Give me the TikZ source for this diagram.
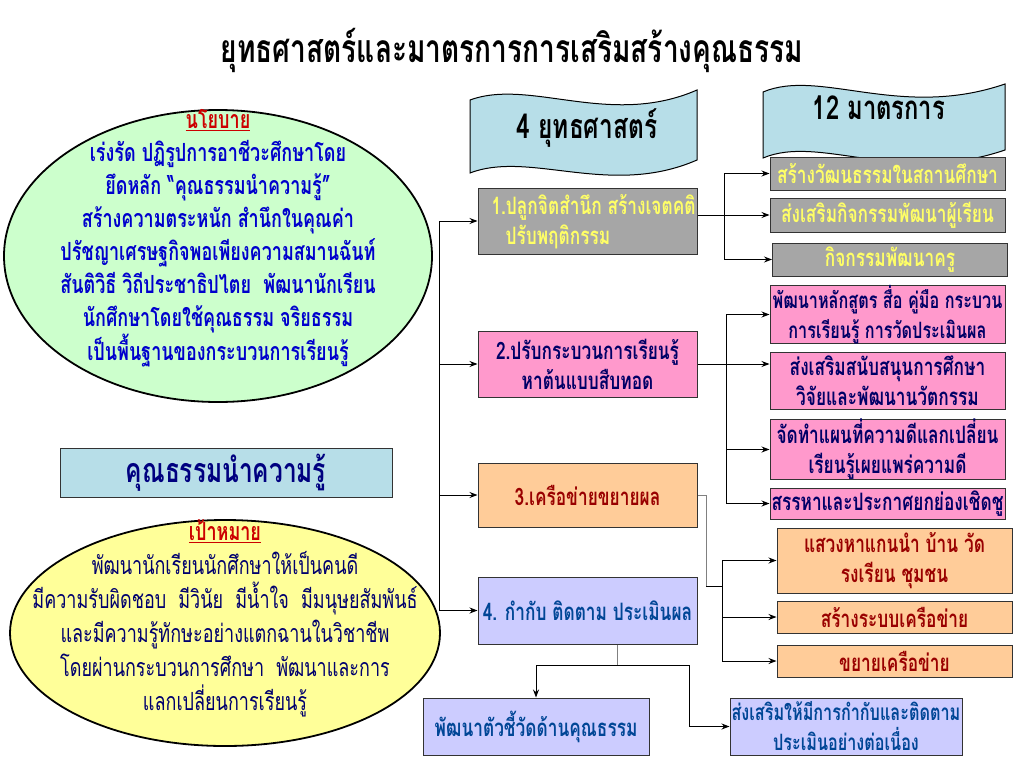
\documentclass[tikz,border=0pt]{standalone}
\usepackage{fontspec}
\setmainfont[Script=Thai,FakeStretch=0.72]{Loma}
\usetikzlibrary{arrows.meta,calc,shapes.geometric}
\definecolor{policygreen}{RGB}{204,255,204}
\definecolor{goalyellow}{RGB}{255,255,153}
\definecolor{policyblue}{RGB}{0,0,204}
\definecolor{goalnavy}{RGB}{0,0,110}
\definecolor{headred}{RGB}{204,0,0}
\definecolor{bannerblue}{RGB}{183,222,232}
\definecolor{mottonavy}{RGB}{0,0,128}
\definecolor{boxgray}{RGB}{166,166,166}
\definecolor{grayyellow}{RGB}{255,255,102}
\definecolor{boxpink}{RGB}{255,153,204}
\definecolor{pinknavy}{RGB}{0,0,102}
\definecolor{boxpeach}{RGB}{255,204,153}
\definecolor{peachred}{RGB}{153,0,0}
\definecolor{boxlavender}{RGB}{204,204,255}
\definecolor{lavblue}{RGB}{0,70,150}
\definecolor{stemgray}{RGB}{128,128,128}
\newcommand{\fsmain}{\fontsize{25}{33}\selectfont}
\newcommand{\fsbox}{\fontsize{24}{30}\selectfont}
\newcommand{\fsnarrow}{\fontsize{22.5}{30}\selectfont}

\begin{document}
\begin{tikzpicture}[x=1pt, y=-1pt,
    box/.style={draw=black!80, line width=1pt, minimum width=219pt, inner sep=0pt, align=center, font=\fsbox\bfseries},
    rbox/.style={box, minimum width=235pt},
    ln/.style={line width=1pt},
    arr/.style={line width=1pt, -{Stealth[length=8pt, width=6pt]}},
    stem/.style={line width=1pt, stemgray},
    banner/.style={fill=bannerblue, draw=black, line width=1pt}]

    \fill[white] (0,0) rectangle (1024,768);
    \useasboundingbox (0,0) rectangle (1024,768);

    \node[font=\fontsize{39}{42}\selectfont\bfseries] (title) at (512,50) {ยุทธศาสตร์และมาตรการการเสริมสร้างคุณธรรม};

    % left side
    \node[ellipse, draw=black, line width=1.8pt, fill=policygreen, minimum width=428pt, minimum height=292pt] (policy) at (218,256) {};
    \node[align=center, text=policyblue, font=\fsmain\bfseries] (policytext) at (218,238)
        {\textcolor{headred}{\underline{นโยบาย}}\\
         เร่งรัด ปฏิรูปการอาชีวะศึกษาโดย\\
         ยึดหลัก “คุณธรรมนำความรู้”\\
         สร้างความตระหนัก สำนึกในคุณค่า\\
         ปรัชญาเศรษฐกิจพอเพียงความสมานฉันท์\\
         สันติวิธี วิถีประชาธิปไตย\ \ พัฒนานักเรียน\\
         นักศึกษาโดยใช้คุณธรรม จริยธรรม\\
         เป็นพื้นฐานของกระบวนการเรียนรู้};

    \node[draw=black!80, line width=1pt, fill=bannerblue, minimum width=332pt, minimum height=49pt, text=mottonavy,
          font=\fontsize{34}{40}\selectfont\bfseries] (motto) at (226,472.5) {คุณธรรมนำความรู้};

    \node[ellipse, draw=black, line width=1.8pt, fill=goalyellow, minimum width=430pt, minimum height=226pt] (goal) at (225,633) {};
    \node[align=center, text=goalnavy, font=\fontsize{25}{34}\selectfont] (goaltext) at (225,618)
        {\textcolor{headred}{\bfseries\underline{เป้าหมาย}}\\
         พัฒนานักเรียนนักศึกษาให้เป็นคนดี\\
         มีความรับผิดชอบ\ \ มีวินัย\ \ มีน้ำใจ\ \ มีมนุษยสัมพันธ์\\
         และมีความรู้ทักษะอย่างแตกฉานในวิชาชีพ\\
         โดยผ่านกระบวนการศึกษา\ \ พัฒนาและการ\\
         แลกเปลี่ยนการเรียนรู้};

    % banners
    \draw[banner] (470,100) .. controls (530,78) and (610,128) .. (697,90) -- (697,160)
        .. controls (610,198) and (530,150) .. (470,173) -- cycle;
    \node[font=\fontsize{34}{38}\selectfont\bfseries] (strategies) at (587,128) {4 ยุทธศาสตร์};
    \draw[banner] (763,92) .. controls (820,68) and (900,120) .. (1005,84) -- (1005,150)
        .. controls (900,186) and (820,134) .. (763,158) -- cycle;
    \node[font=\fontsize{33}{36}\selectfont\bfseries] (measures) at (879,108) {12 มาตรการ};

    % strategies
    \node[box, fill=boxgray, minimum height=66pt] (s1) at (587.5,221) {};
    \node[anchor=west, align=left, text=grayyellow, font=\fsbox\bfseries] (s1text) at (488,222)
        {1.ปลูกจิตสำนึก สร้างเจตคติ\\\hspace*{14pt}ปรับพฤติกรรม};
    \node[box, fill=boxpink, minimum height=66pt, text=pinknavy] (s2) at (587.5,364) {2.ปรับกระบวนการเรียนรู้\\หาต้นแบบสืบทอด};
    \node[box, fill=boxpeach, minimum height=64pt, text=peachred] (s3) at (587.5,495) {3.เครือข่ายขยายผล};
    \node[box, fill=boxlavender, minimum height=67pt, text=lavblue] (s4) at (587.5,610.5) {4. กำกับ ติดตาม ประเมินผล};

    \coordinate (trunk) at (439,0);
    \draw[ln] (trunk |- s1.west) -- (trunk |- s4.west);
    \foreach \s in {s1,s2,s3,s4}
        \draw[arr] (trunk |- \s.west) -- (\s.west);

    % measures
    \node[rbox, fill=boxgray, minimum height=33pt, text=grayyellow] (r1) at (887.5,173.5) {สร้างวัฒนธรรมในสถานศึกษา};
    \node[rbox, fill=boxgray, minimum height=34pt, text=grayyellow] (r2) at (887.5,215) {ส่งเสริมกิจกรรมพัฒนาผู้เรียน};
    \node[rbox, fill=boxgray, minimum height=33pt, text=grayyellow] (r3) at (890,259.5) {กิจกรรมพัฒนาครู};

    \node[rbox, fill=boxpink, minimum height=55pt, text=pinknavy, font=\fsnarrow\bfseries] (p1) at (887.5,314.5) {พัฒนาหลักสูตร สื่อ คู่มือ กระบวน\\การเรียนรู้ การวัดประเมินผล};
    \node[rbox, fill=boxpink, minimum height=57pt, text=pinknavy] (p2) at (887.5,380.5) {ส่งเสริมสนับสนุนการศึกษา\\วิจัยและพัฒนานวัตกรรม};
    \node[rbox, fill=boxpink, minimum height=57pt, text=pinknavy] (p3) at (887.5,449.5) {จัดทำแผนที่ความดีแลกเปลี่ยน\\เรียนรู้เผยแพร่ความดี};
    \node[rbox, fill=boxpink, minimum height=31pt, text=pinknavy] (p4) at (887.5,503.5) {สรรหาและประกาศยกย่องเชิดชู};

    \node[rbox, fill=boxpeach, minimum height=65pt, text=peachred] (o1) at (894.5,560.5) {แสวงหาแกนนำ บ้าน วัด\\รงเรียน ชุมชน};
    \node[rbox, fill=boxpeach, minimum height=32pt, text=peachred] (o2) at (894.5,617) {สร้างระบบเครือข่าย};
    \node[rbox, fill=boxpeach, minimum height=32pt, text=peachred] (o3) at (894.5,661) {ขยายเครือข่าย};

    \node[box, fill=boxlavender, minimum width=226pt, minimum height=57pt, text=lavblue] (l1) at (536,726.5) {พัฒนาตัวชี้วัดด้านคุณธรรม};
    \node[box, fill=boxlavender, minimum width=232pt, minimum height=57pt, text=lavblue, font=\fsnarrow\bfseries] (l2) at (846,726.5) {ส่งเสริมให้มีการกำกับและติดตาม\\ประเมินอย่างต่อเนื่อง};

    % branch 1
    \coordinate (j1) at (724,0);
    \draw[ln] (j1 |- r1.west) -- (j1 |- r3.west);
    \draw[arr] (s1.east |- r2.west) -- (r2.west);
    \draw[arr] (j1 |- r1.west) -- (r1.west);
    \draw[arr] (j1 |- r3.west) -- (r3.west);

    % branch 2
    \coordinate (j2) at (726,0);
    \draw[ln] (j2 |- p1.west) -- (j2 |- p4.west);
    \draw[arr] (s2.east) -- (s2.east -| p2.west);
    \foreach \p in {p1,p3,p4}
        \draw[arr] (j2 |- \p.west) -- (\p.west);

    % branch 3
    \coordinate (k3) at (706,586);
    \coordinate (j3) at (722,586);
    \draw[stem] (s3.east) -| (k3);
    \draw[ln] (k3) -- (j3);
    \draw[ln] (j3 |- o1.west) -- (j3 |- o3.west);
    \foreach \o in {o1,o2,o3}
        \draw[arr] (j3 |- \o.west) -- (\o.west);

    % branch 4
    \coordinate (k4) at (617,665);
    \coordinate (m4) at (689,665);
    \draw[stem] (s4.south -| k4) -- (k4);
    \draw[ln] (l1.north |- k4) -- (m4);
    \draw[arr] (l1.north |- k4) -- (l1.north);
    \draw[arr] (m4) |- (l2.west);

\end{tikzpicture}
\end{document}
